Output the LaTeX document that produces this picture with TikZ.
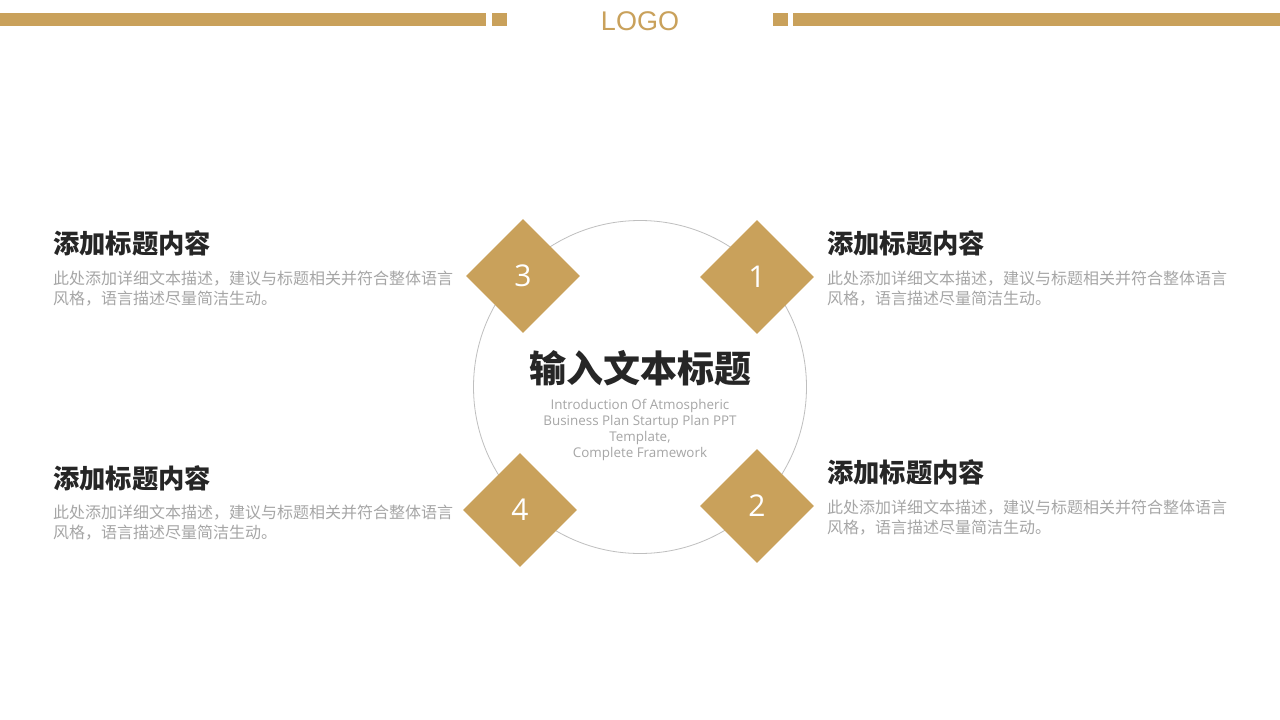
\documentclass[tikz,border=0pt]{standalone}
\usepackage{fontspec}
\setmainfont{Liberation Sans}
\newfontfamily\cjk{Noto Sans CJK SC}
\newfontfamily\latin{Open Sans}
\usepackage{xcolor}
\usetikzlibrary{shapes.geometric,positioning}
\definecolor{gold}{HTML}{C9A15B}
\definecolor{ink}{HTML}{262626}
\definecolor{mute}{HTML}{A6A6A6}
\definecolor{ring}{HTML}{BFBFBF}
\tikzset{
  x=1pt, y=-1pt,
  numdiamond/.style={diamond, fill=gold, inner sep=0pt, minimum width=114pt, minimum height=114pt,
    text=white, font=\latin\fontsize{30}{30}\selectfont},
  blockhead/.style={anchor=west, inner sep=0pt, text=ink, font=\cjk\bfseries\fontsize{26.3}{28}\selectfont},
  blockbody/.style={anchor=north west, inner sep=0pt, align=left, text=mute,
    font=\cjk\fontsize{16}{19.5}\selectfont},
}
\begin{document}
\begin{tikzpicture}
                \useasboundingbox (0,0) rectangle (1280,720);
                \fill[white] (0,0) rectangle (1280,720);
                \fill[gold] (0,13) rectangle (486,26);
                \fill[gold] (492,13) rectangle (507,26);
                \fill[gold] (773,13) rectangle (788,26);
                \fill[gold] (793,13) rectangle (1280,26);
                \node[text=gold, font=\fontsize{27}{27}\selectfont] (logo) at (640,21) {LOGO};
                \node[circle, draw=ring, line width=0.8pt, minimum size=333pt, inner sep=0pt] (hub) at (640,387) {};
                \node[text=ink, font=\cjk\bfseries\fontsize{37}{40}\selectfont] (title) at (640,368) {输入文本标题};
                \node[text=mute, align=center, font=\latin\fontsize{13.4}{16}\selectfont] (subtitle) at (640,430)
                    {Introduction Of Atmospheric\\Business Plan Startup Plan PPT\\Template,\\Complete Framework};
                \node[numdiamond] (d1) at (757,277) {1};
                \node[numdiamond] (d2) at (757,506) {2};
                \node[numdiamond] (d3) at (523,276) {3};
                \node[numdiamond] (d4) at (520,510) {4};
                \node[blockhead] (h3) at (53,243) {添加标题内容};
                \node[blockbody] (b3) at (53,271) {此处添加详细文本描述，建议与标题相关并符合整体语言\\风格，语言描述尽量简洁生动。};
                \node[blockhead] (h4) at (53,478) {添加标题内容};
                \node[blockbody] (b4) at (53,505) {此处添加详细文本描述，建议与标题相关并符合整体语言\\风格，语言描述尽量简洁生动。};
                \node[blockhead] (h1) at (827,243) {添加标题内容};
                \node[blockbody] (b1) at (827,271) {此处添加详细文本描述，建议与标题相关并符合整体语言\\风格，语言描述尽量简洁生动。};
                \node[blockhead] (h2) at (827,472) {添加标题内容};
                \node[blockbody] (b2) at (827,500) {此处添加详细文本描述，建议与标题相关并符合整体语言\\风格，语言描述尽量简洁生动。};
            \end{tikzpicture}
\end{document}
